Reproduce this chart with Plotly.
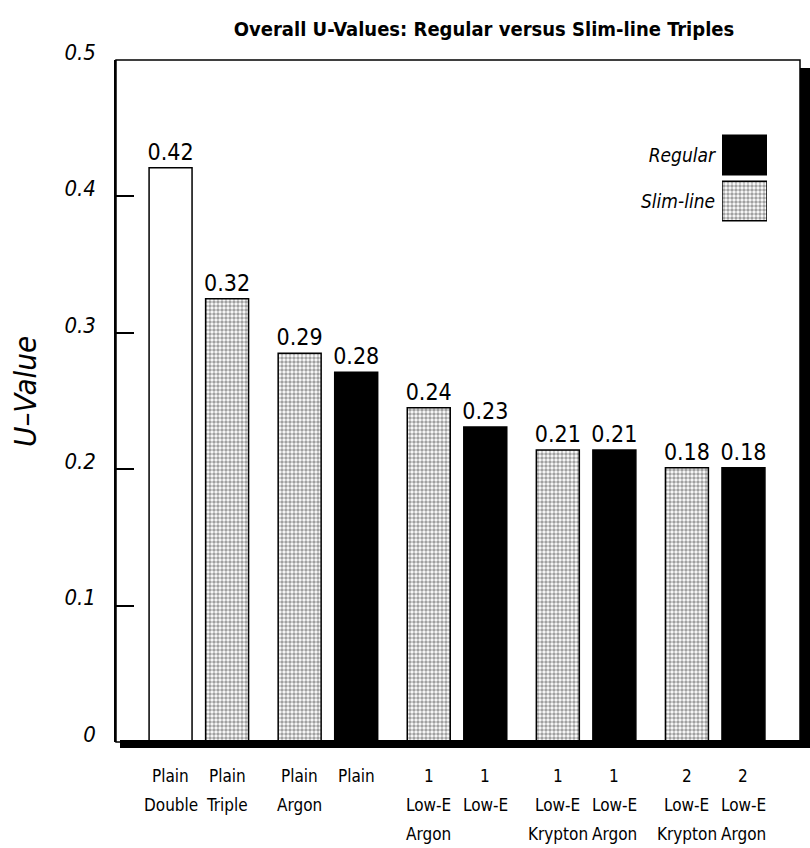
import plotly.graph_objects as go

# ---------------- data ----------------
categories = [
    "Plain<br>Double", "Plain<br>Triple", "Plain<br>Argon", "Plain",
    "1<br>Low-E<br>Argon", "1<br>Low-E", "1<br>Low-E<br>Krypton",
    "1<br>Low-E<br>Argon", "2<br>Low-E<br>Krypton", "2<br>Low-E<br>Argon",
]
# bar heights as drawn in the picture
u_values = [0.421, 0.325, 0.285, 0.271, 0.245, 0.231, 0.214, 0.214, 0.201, 0.201]
# printed value labels
value_labels = ["0.42", "0.32", "0.29", "0.28", "0.24", "0.23", "0.21", "0.21", "0.18", "0.18"]
# window type of each bar
bar_types = ["double", "slim", "slim", "regular", "slim", "regular",
             "slim", "regular", "slim", "regular"]
legend_names = ["Slim-line", "Regular"]
y_ticks = [0, 0.1, 0.2, 0.3, 0.4, 0.5]
y_tick_text = ["0", "0.1", "0.2", "0.3", "0.4", "0.5"]

# ---------------- layout geometry (pixels) ----------------
W, H = 810, 848
L, R, T, B = 116, 800, 60, 742
PAIR_PITCH = 2.283   # bars come in pairs
BAR_W = 0.76
LABEL_TOP = 34       # px from axis to first label line centre
LABEL_STEP = 29      # px between label lines

def px_x(p):
    return (p - L) / (R - L)

def px_y(p):
    return (B - p) / (B - T)

positions = [(i // 2) * PAIR_PITCH + (i % 2) for i in range(len(u_values))]
x_range = [-0.965, positions[-1] + 1.0]

FONT = "DejaVu Sans Condensed, Liberation Sans, sans-serif"

fill = {"double": "white", "slim": "white", "regular": "black"}
pat = {"double": "", "slim": ".", "regular": ""}
STIPPLE = dict(fgcolor="#111111", bgcolor="white", size=4, solidity=0.6, fillmode="overlay")

fig = go.Figure()
fig.add_trace(go.Bar(
    x=positions,
    y=u_values,
    width=[BAR_W] * len(u_values),
    text=value_labels,
    textposition="outside",
    constraintext="none",
    cliponaxis=False,
    textfont=dict(family=FONT, size=23, color="black"),
    marker=dict(
        color=[fill[t] for t in bar_types],
        line=dict(color="black", width=1.5),
        pattern=dict(shape=[pat[t] for t in bar_types], **STIPPLE),
    ),
    showlegend=False,
    hoverinfo="skip",
))

# legend boxes drawn on their own small axis pair
fig.add_trace(go.Bar(
    x=[1, 1],
    y=legend_names,
    orientation="h",
    width=[0.86, 0.86],
    xaxis="x2",
    yaxis="y2",
    marker=dict(
        color=["white", "black"],
        line=dict(color="black", width=1.5),
        pattern=dict(shape=[".", ""], **STIPPLE),
    ),
    showlegend=False,
    hoverinfo="skip",
))

shapes = [
    # frame
    dict(type="rect", xref="paper", yref="paper", x0=0, x1=1, y0=0, y1=1,
         line=dict(color="black", width=1.5), layer="below"),
    # right drop shadow
    dict(type="rect", xref="paper", yref="paper", x0=px_x(800), x1=px_x(812),
         y0=px_y(748), y1=px_y(68), fillcolor="black", line=dict(width=0)),
    # bottom drop shadow
    dict(type="rect", xref="paper", yref="paper", x0=px_x(120), x1=px_x(812),
         y0=px_y(748), y1=px_y(740), fillcolor="black", line=dict(width=0)),
]

annotations = [
    dict(
        text="<i>U–Value</i>",
        textangle=-90,
        xref="paper", yref="paper",
        x=px_x(25), y=px_y(392),
        xanchor="center", yanchor="middle",
        showarrow=False,
        font=dict(family=FONT, size=31, color="black"),
    )
]
# category labels, one text line each, spaced like the original
for pos, cat in zip(positions, categories):
    for k, line in enumerate(cat.split("<br>")):
        annotations.append(dict(
            text=line,
            xref="x", yref="paper",
            x=pos, y=0,
            xanchor="center", yanchor="middle",
            yshift=-(LABEL_TOP + k * LABEL_STEP),
            showarrow=False,
            font=dict(family=FONT, size=17, color="black"),
        ))

fig.update_layout(
    width=W, height=H,
    margin=dict(l=L, r=W - R, t=T, b=H - B, autoexpand=False),
    paper_bgcolor="white",
    plot_bgcolor="white",
    shapes=shapes,
    annotations=annotations,
    title=dict(
        text="<b>Overall U-Values: Regular versus Slim-line Triples</b>",
        font=dict(family=FONT, size=20, color="black"),
        xref="paper", x=px_x(484), xanchor="center",
        yref="container", y=1 - 29 / H, yanchor="middle",
    ),
    xaxis=dict(
        range=x_range,
        tickvals=positions,
        showticklabels=False,
        ticks="",
        showline=False,
        showgrid=False,
        zeroline=False,
        fixedrange=True,
    ),
    yaxis=dict(
        range=[0, 0.5],
        tickvals=y_ticks,
        ticktext=["<i>%s</i>" % t for t in y_tick_text],
        ticks="inside",
        ticklen=18,
        tickwidth=1.5,
        tickcolor="black",
        showline=True,
        linecolor="black",
        linewidth=1.5,
        showgrid=False,
        zeroline=False,
        tickfont=dict(family=FONT, size=22, color="black"),
        ticklabelstandoff=14,
        ticklabelshift=-8,
        fixedrange=True,
    ),
    xaxis2=dict(
        domain=[px_x(722), px_x(767)],
        anchor="y2",
        range=[0, 1],
        visible=False,
        fixedrange=True,
    ),
    yaxis2=dict(
        domain=[px_y(224), px_y(132)],
        anchor="x2",
        type="category",
        categoryorder="array",
        categoryarray=legend_names,
        ticktext=["<i>%s</i>" % n for n in legend_names],
        tickvals=legend_names,
        ticks="",
        showline=False,
        showgrid=False,
        zeroline=False,
        tickfont=dict(family=FONT, size=19, color="black"),
        ticklabelstandoff=6,
        fixedrange=True,
    ),
)

fig.write_html("out.html")
